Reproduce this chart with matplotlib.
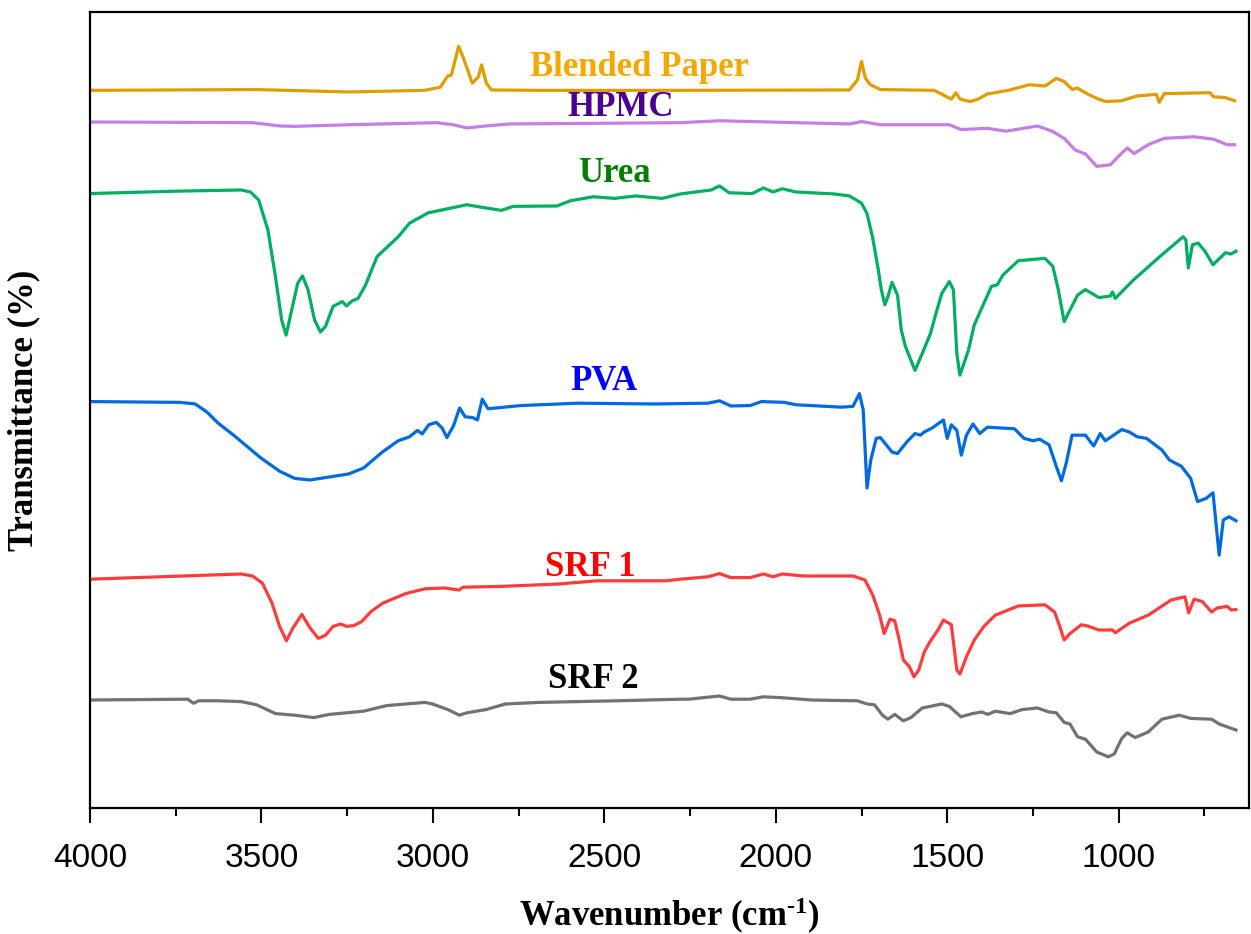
import numpy as np
import matplotlib
matplotlib.use('Agg')
import matplotlib.pyplot as plt

plt.rcParams['font.family'] = ['Liberation Serif', 'DejaVu Serif']
plt.rcParams['mathtext.fontset'] = 'custom'
plt.rcParams['mathtext.rm'] = 'Liberation Serif:bold'
plt.rcParams['mathtext.default'] = 'rm'

# spectra (wavenumber in cm-1, transmittance in arbitrary offset units)
blend_wn = [4000, 3514, 3246, 3024, 2978, 2957, 2946, 2925, 2911, 2885, 2867, 2858, 2844, 2829,
            2689, 2278, 1785, 1762, 1750, 1739, 1724, 1695, 1538, 1488, 1475, 1462, 1433, 1410,
            1383, 1322, 1261, 1214, 1182, 1159, 1135, 1121, 1091, 1059, 1036, 992, 946, 890,
            882, 867, 733, 724, 689, 662]
blend_t = [89.7, 89.8, 89.5, 89.7, 90.1, 91.5, 91.6, 95.2, 93.75, 90.6, 91.4, 92.9, 90.6, 89.75,
           89.7, 89.7, 89.75, 91.0, 93.3, 91.25, 90.4, 89.8, 89.7, 88.6, 89.4, 88.6, 88.3, 88.6,
           89.25, 89.7, 90.4, 90.25, 91.2, 90.8, 89.8, 90.0, 89.25, 88.6, 88.3, 88.4, 89.0, 89.2,
           88.2, 89.3, 89.4, 88.9, 88.8, 88.4]

hpmc_wn = [4000, 3526, 3447, 3403, 3246, 2989, 2940, 2901, 2844, 2777, 2278, 2164, 1785, 1750,
           1695, 1494, 1460, 1383, 1360, 1328, 1237, 1194, 1159, 1127, 1097, 1064, 1024, 1002,
           975, 955, 914, 868, 780, 724, 683, 662]
hpmc_t = [85.75, 85.66, 85.25, 85.2, 85.4, 85.66, 85.4, 85.0, 85.25, 85.5, 85.66, 85.9, 85.5, 85.8,
          85.4, 85.4, 84.8, 84.96, 84.8, 84.6, 85.25, 84.6, 83.7, 82.25, 81.75, 80.2, 80.4, 81.4,
          82.5, 81.8, 82.9, 83.7, 83.9, 83.6, 82.9, 82.9]

urea_wn = [4000, 3748, 3559, 3532, 3508, 3481, 3459, 3441, 3428, 3414, 3394, 3380, 3364, 3345,
           3328, 3313, 3291, 3264, 3252, 3235, 3218, 3196, 3163, 3141, 3101, 3068, 3013, 2901,
           2845, 2800, 2766, 2638, 2599, 2532, 2470, 2409, 2331, 2278, 2188, 2164, 2136, 2069,
           2036, 2008, 1981, 1941, 1829, 1785, 1750, 1734, 1718, 1701, 1692, 1682, 1673, 1661,
           1645, 1634, 1622, 1594, 1573, 1549, 1533, 1516, 1494, 1482, 1472, 1463, 1438, 1421,
           1393, 1371, 1354, 1338, 1293, 1215, 1192, 1176, 1159, 1142, 1120, 1097, 1058, 1024,
           1018, 1010, 957, 878, 812, 804, 797, 785, 768, 747, 725, 689, 672, 658]
urea_t = [76.8, 77.1, 77.25, 77.0, 76.0, 72.25, 66.4, 61.0, 59.1, 61.8, 65.6, 66.5, 64.75, 61.0,
          59.5, 60.2, 62.7, 63.3, 62.75, 63.4, 63.7, 65.4, 68.9, 69.8, 71.4, 73.1, 74.4, 75.4,
          75.0, 74.7, 75.2, 75.25, 75.9, 76.4, 76.2, 76.5, 76.2, 76.75, 77.25, 77.75, 76.9, 76.8,
          77.5, 77.0, 77.4, 77.0, 76.75, 76.5, 75.6, 74.3, 71.4, 67.25, 64.75, 62.9, 63.9, 65.7,
          64.1, 59.75, 57.7, 54.7, 56.8, 59.3, 61.8, 64.3, 65.8, 64.75, 56.8, 54.1, 57.25, 60.4,
          63.1, 65.2, 65.4, 66.6, 68.4, 68.7, 67.7, 64.75, 60.8, 62.25, 64.1, 64.8, 63.8, 64.0,
          64.5, 63.7, 66.0, 69.0, 71.4, 71.0, 67.5, 70.4, 70.6, 69.5, 67.9, 69.4, 69.25, 69.6]

pva_wn = [4000, 3737, 3693, 3659, 3626, 3581, 3503, 3447, 3403, 3358, 3246, 3202, 3147, 3101,
          3068, 3045, 3031, 3012, 2990, 2973, 2959, 2940, 2922, 2906, 2884, 2870, 2856, 2839,
          2745, 2577, 2354, 2198, 2164, 2131, 2075, 2042, 1975, 1941, 1807, 1775, 1756, 1745,
          1734, 1723, 1707, 1695, 1661, 1645, 1617, 1594, 1578, 1567, 1544, 1511, 1500, 1488,
          1472, 1459, 1444, 1425, 1405, 1383, 1304, 1276, 1249, 1231, 1203, 1182, 1167, 1153,
          1136, 1097, 1073, 1054, 1039, 991, 969, 946, 919, 874, 852, 817, 790, 770, 745, 725,
          707, 695, 678, 658]
pva_t = [50.8, 50.7, 50.5, 49.5, 48.1, 46.6, 43.8, 42.1, 41.2, 41.0, 41.75, 42.5, 44.5, 45.9,
         46.4, 47.2, 46.75, 47.9, 48.2, 47.5, 46.3, 47.75, 50.0, 48.9, 48.8, 48.5, 51.1, 49.9,
         50.3, 50.6, 50.5, 50.6, 50.9, 50.25, 50.3, 50.8, 50.7, 50.4, 50.1, 50.2, 51.8, 49.75,
         40.0, 43.5, 46.2, 46.3, 44.5, 44.3, 45.8, 46.8, 46.6, 47.0, 47.5, 48.5, 46.2, 47.9,
         47.2, 44.1, 46.6, 48.0, 46.8, 47.6, 47.4, 46.2, 45.9, 46.1, 45.4, 42.7, 40.9, 43.1,
         46.6, 46.6, 45.25, 46.8, 45.9, 47.3, 47.0, 46.4, 46.2, 44.75, 43.5, 42.7, 41.2, 38.3,
         38.7, 39.4, 31.6, 36.0, 36.4, 35.9]

srf1_wn = [4000, 3559, 3526, 3497, 3469, 3447, 3427, 3408, 3382, 3358, 3334, 3313, 3291, 3269,
           3252, 3230, 3208, 3179, 3146, 3113, 3079, 3023, 2967, 2923, 2912, 2800, 2633, 2521,
           2320, 2278, 2198, 2164, 2131, 2075, 2036, 2008, 1981, 1919, 1774, 1740, 1717, 1697,
           1684, 1667, 1653, 1640, 1628, 1611, 1597, 1583, 1567, 1550, 1527, 1511, 1488, 1472,
           1463, 1444, 1421, 1393, 1360, 1293, 1215, 1187, 1172, 1159, 1142, 1109, 1091, 1058,
           1018, 1010, 969, 914, 847, 807, 796, 780, 756, 729, 713, 683, 672, 658]
srf1_t = [28.6, 29.25, 29.0, 28.1, 25.6, 22.7, 20.9, 22.5, 24.2, 22.5, 21.2, 21.6, 22.7, 23.0,
          22.7, 22.8, 23.3, 24.6, 25.6, 26.2, 26.8, 27.4, 27.5, 27.25, 27.6, 27.7, 28.0, 28.4,
          28.4, 28.6, 28.9, 29.3, 28.8, 28.8, 29.25, 28.9, 29.25, 29.0, 29.0, 28.5, 26.6, 24.1,
          21.8, 23.6, 23.4, 21.0, 18.5, 17.7, 16.4, 17.25, 19.5, 20.8, 22.25, 23.5, 22.9, 17.25,
          16.75, 18.9, 21.0, 22.7, 24.1, 25.25, 25.4, 24.5, 22.7, 21.0, 21.8, 22.9, 22.75, 22.25,
          22.25, 21.9, 23.1, 24.1, 26.0, 26.4, 24.4, 26.1, 25.8, 24.5, 25.0, 25.2, 24.75, 24.8]

srf2_wn = [4000, 3715, 3698, 3682, 3626, 3559, 3514, 3459, 3403, 3347, 3302, 3202, 3135, 3023,
           3001, 2956, 2923, 2901, 2845, 2789, 2689, 2465, 2278, 2254, 2164, 2131, 2075, 2036,
           1987, 1896, 1762, 1734, 1712, 1689, 1673, 1653, 1628, 1606, 1573, 1516, 1494, 1460,
           1427, 1399, 1382, 1360, 1316, 1282, 1237, 1203, 1182, 1159, 1142, 1120, 1097, 1064,
           1030, 1013, 991, 975, 952, 914, 874, 823, 790, 729, 707, 658]
srf2_t = [13.5, 13.6, 13.1, 13.4, 13.4, 13.3, 12.9, 11.8, 11.6, 11.3, 11.7, 12.1, 12.8, 13.2,
          13.0, 12.3, 11.6, 11.9, 12.3, 13.0, 13.2, 13.4, 13.6, 13.6, 14.0, 13.6, 13.6, 13.9,
          13.8, 13.5, 13.4, 13.0, 12.9, 11.6, 11.1, 11.7, 10.9, 11.3, 12.5, 13.0, 12.7, 11.4,
          11.8, 12.0, 11.7, 12.1, 11.8, 12.3, 12.5, 12.0, 11.9, 10.7, 10.5, 8.9, 8.6, 7.0,
          6.4, 6.75, 8.7, 9.4, 8.8, 9.5, 11.1, 11.6, 11.2, 11.1, 10.5, 9.75]

names = ['Blended Paper', 'HPMC', 'Urea', 'PVA', 'SRF 1', 'SRF 2']
line_colors = ['#E39C00', '#C77CE6', '#00B060', '#006AE0', '#FF3C3C', '#727272']
text_colors = ['#F5A800', '#4B0091', '#008000', '#0000FF', '#FF0000', '#000000']
label_wn = [2398, 2453, 2470, 2500, 2540, 2532]
label_t = [92.5, 87.6, 79.25, 53.25, 30.1, 16.0]

spectra = [(blend_wn, blend_t), (hpmc_wn, hpmc_t), (urea_wn, urea_t),
           (pva_wn, pva_t), (srf1_wn, srf1_t), (srf2_wn, srf2_t)]

fig = plt.figure(figsize=(12.51, 9.34), dpi=100)
ax = fig.add_axes([0.0719, 0.1349, 0.9265, 0.8523])

for (wn, t), c in zip(spectra, line_colors):
    ax.plot(wn, t, color=c, lw=2.3, solid_joinstyle='round')

for name, x, y, c in zip(names, label_wn, label_t, text_colors):
    ax.text(x, y, name, color=c, fontsize=25, fontweight='bold', ha='center', va='center')

ax.set_xlim(4000, 620)
ax.set_ylim(0, 99.5)
ax.set_xticks([4000, 3500, 3000, 2500, 2000, 1500, 1000])
ax.set_xticks(np.arange(3750, 620, -500), minor=True)
ax.set_yticks([])
ax.tick_params(axis='x', which='major', length=11, width=1.5, direction='out', pad=14)
ax.tick_params(axis='x', which='minor', length=6, width=1.5, direction='out')
for lab in ax.get_xticklabels():
    lab.set_fontfamily(['Liberation Sans', 'DejaVu Sans'])
    lab.set_fontsize(24)
for s in ax.spines.values():
    s.set_linewidth(1.6)

ax.set_xlabel('Wavenumber (cm$^{\u2010 1}$)', fontsize=25, fontweight='bold', labelpad=16)
ax.set_ylabel('Transmittance (%)', fontsize=25, fontweight='bold', labelpad=36)

plt.savefig('out.png', dpi=100)
